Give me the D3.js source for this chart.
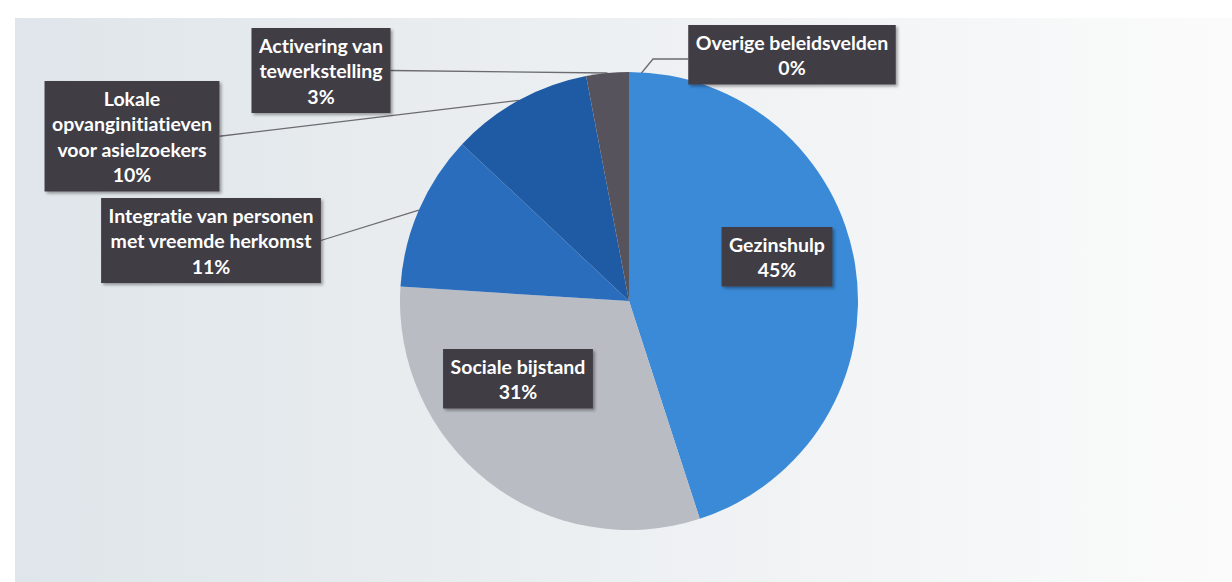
<!DOCTYPE html>
<html><head><meta charset="utf-8">
<script src="https://cdn.jsdelivr.net/npm/d3@7"></script>
<style>html,body{margin:0;padding:0;background:#fff;}svg{display:block;}text{font-variant-ligatures:none;font-feature-settings:"liga" 0,"clig" 0;}</style>
</head><body>
<svg id="c" width="1232" height="582"></svg>
<script>
const categories = ["Gezinshulp","Sociale bijstand","Integratie van personen met vreemde herkomst","Lokale opvanginitiatieven voor asielzoekers","Activering van tewerkstelling","Overige beleidsvelden"];
const values = [45, 31, 11, 10, 3, 0];
const labelLines = [["Gezinshulp"],["Sociale bijstand"],["Integratie van personen","met vreemde herkomst"],["Lokale","opvanginitiatieven","voor asielzoekers"],["Activering van","tewerkstelling"],["Overige beleidsvelden"]];
const colors = ["#3a8ad8","#b9bcc3","#2a6dbd","#1f5ba4","#57535c","#6a6a72"];

const svg = d3.select("#c");
const W = 1232, H = 582;
const defs = svg.append("defs");
const g1 = defs.append("linearGradient").attr("id","bg").attr("x1","0").attr("x2","1").attr("y1","0").attr("y2","0");
g1.append("stop").attr("offset","0").attr("stop-color","#dfe5ea");
g1.append("stop").attr("offset","0.5").attr("stop-color","#edf0f2");
g1.append("stop").attr("offset","1").attr("stop-color","#fbfbfb");
svg.append("rect").attr("x",15).attr("y",18).attr("width",W-15).attr("height",H-18).attr("fill","url(#bg)");
const f = defs.append("filter").attr("id","sh").attr("x","-10%").attr("y","-10%").attr("width","130%").attr("height","130%");
f.append("feDropShadow").attr("dx",2).attr("dy",2).attr("stdDeviation",1.5).attr("flood-color","#000").attr("flood-opacity",0.35);

const cx = 629, cy = 301, R = 229;
const pie = d3.pie().sort(null).value(d => d)(values);
const arc = d3.arc().innerRadius(0).outerRadius(R);
const gp = svg.append("g").attr("transform",`translate(${cx},${cy})`);
gp.selectAll("path").data(pie).join("path").attr("d",arc).attr("fill",(d,i)=>colors[i]);

const layout = [
  {x:777, y:244, inside:true},
  {x:518, y:366, inside:true},
  {x:211, y:215, side:"right"},
  {x:132, y:98, side:"right"},
  {x:321, y:45, side:"right"},
  {x:792, y:42, side:"left"}
];
const LH = 25.5;
const pct = d3.format(".0%");
const total = d3.sum(values);

const outer = d3.arc().innerRadius(R).outerRadius(R);
const lab = svg.append("g");
pie.forEach((d,i) => {
  const L = layout[i];
  const lines = labelLines[i].concat([pct(values[i]/total)]);
  const gg = lab.append("g");
  const texts = lines.map((t,k) => gg.append("text").attr("x",L.x).attr("y",L.y + k*LH)
    .attr("text-anchor","middle").attr("dominant-baseline","central")
    .attr("font-family","Lato, sans-serif").attr("font-weight",700).attr("font-size",19.5)
    .attr("fill","#fff").text(t));
  let maxw = d3.max(texts, t => t.node().getComputedTextLength());
  const pad = 7.5;
  const bx = L.x - maxw/2 - pad, bw = maxw + 2*pad;
  const by = L.y - 17, bh = (lines.length-1)*LH + 34;
  gg.insert("rect","text").attr("x",bx).attr("y",by).attr("width",bw).attr("height",bh)
    .attr("fill","#403c44").attr("filter","url(#sh)");
  if (!L.inside) {
    const c = outer.centroid(d);
    const px = cx + c[0], py = cy + c[1];
    let pts;
    if (L.side === "right") pts = [[bx+bw, by+bh/2],[px,py]];
    else pts = [[px+10,py+4],[px+24,py-13],[bx,py-13]];
    svg.insert("path","g").attr("d",d3.line()(pts)).attr("fill","none").attr("stroke","#6b6b70").attr("stroke-width",1.3);
  }
});
</script>
</body></html>
